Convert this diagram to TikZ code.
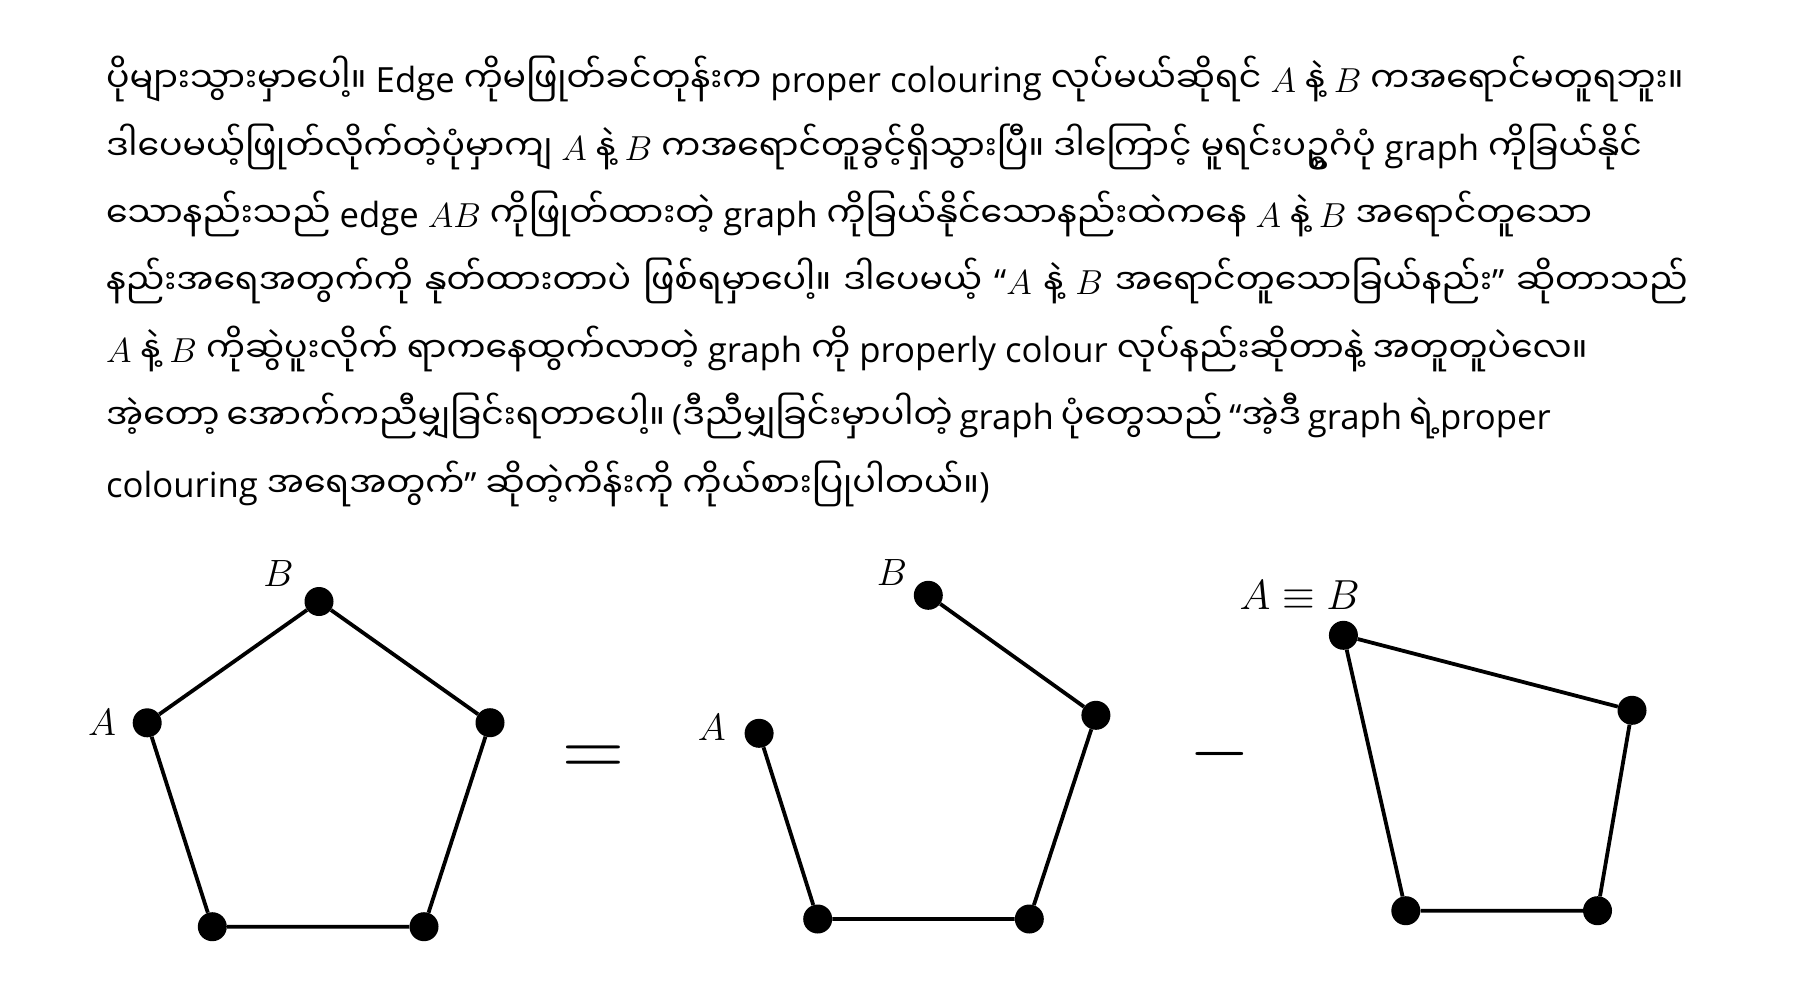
\RequirePackage{fix-cm}
\documentclass[tikz,border=0pt]{standalone}
\usepackage[no-math]{fontspec}
\setmainfont{Open Sans}
\newfontfamily\my[Script=Myanmar]{Noto Sans Myanmar UI}
\newcommand\LA[1]{{\rmfamily #1}}
\newcommand\wsp[1]{\spaceskip=\dimexpr\fontdimen2\font+#1\relax}
\tikzset{
  txt/.style={anchor=base west, inner sep=0pt, font=\my\fontsize{34.7}{40}\selectfont},
  dot/.style={circle, fill=black, inner sep=0pt, minimum size=29pt},
  edge/.style={line width=3.8pt},
  lab/.style={inner sep=0pt, font=\fontsize{38}{40}\selectfont},
  bigsym/.style={anchor=base, inner sep=0pt}
}
\begin{document}
\begin{tikzpicture}[x=1pt,y=-1pt]
\useasboundingbox (0,0) rectangle (1795,1007);
% text lines
\node[txt] (l1) at (106,92.7) {ပိုများသွားမှာပေါ့။ \LA{Edge} ကိုမဖြုတ်ခင်တုန်းက \LA{proper colouring} လုပ်မယ်ဆိုရင် $A$ နဲ့ $B$ ကအရောင်မတူရဘူး။};
\node[txt] (l2) at (106,160.1) {ဒါပေမယ့်ဖြုတ်လိုက်တဲ့ပုံမှာကျ $A$ နဲ့ $B$ ကအရောင်တူခွင့်ရှိသွားပြီ။ ဒါကြောင့် မူရင်းပဥ္စဂံပုံ \LA{graph} ကိုခြယ်နိုင်};
\node[txt] (l3) at (106,227.5) {သောနည်းသည် \LA{edge} $AB$ ကိုဖြုတ်ထားတဲ့ \LA{graph} ကိုခြယ်နိုင်သောနည်းထဲကနေ $A$ နဲ့ $B$ အရောင်တူသော};
\node[txt] (l4) at (106,294.9) {\wsp{2.9pt}နည်းအရေအတွက်ကို နုတ်ထားတာပဲ ဖြစ်ရမှာပေါ့။ ဒါပေမယ့် \LA{“}$A$ နဲ့ $B$ အရောင်တူသောခြယ်နည်း\LA{”} ဆိုတာသည်};
\node[txt] (l5) at (106,362.3) {$A$ နဲ့ $B$ ကိုဆွဲပူးလိုက် ရာကနေထွက်လာတဲ့ \LA{graph} ကို \LA{properly colour} လုပ်နည်းဆိုတာနဲ့ အတူတူပဲလေ။};
\node[txt] (l6) at (106,429.7) {\wsp{-2pt}အဲ့တော့ အောက်ကညီမျှခြင်းရတာပေါ့။ \LA{(}ဒီညီမျှခြင်းမှာပါတဲ့ \LA{graph} ပုံတွေသည် \LA{“}အဲ့ဒီ \LA{graph} ရဲ့\LA{proper}};
\node[txt] (l7) at (106,497.1) {\LA{colouring} အရေအတွက်\LA{”} ဆိုတဲ့ကိန်းကို ကိုယ်စားပြုပါတယ်။\LA{)}};
% graph 1
\node[dot] (a1) at (147.2,722.8) {};
\node[dot] (b1) at (319,601.5) {};
\node[dot] (r1) at (490,722.7) {};
\node[dot] (br1) at (424,926.7) {};
\node[dot] (bl1) at (212.3,926.7) {};
\node[lab] (la1) at (102,722.5) {$A$};
\node[lab] (lb1) at (278.5,573.7) {$B$};
\draw[edge] (a1) -- (b1) -- (r1) -- (br1) -- (bl1) -- (a1);
% equals
\node[bigsym, font=\fontsize{86}{90}\selectfont] (eq) at (593,776.5) {$=$};
% graph 2
\node[dot] (a2) at (759.1,733.3) {};
\node[dot] (b2) at (928.3,595.3) {};
\node[dot] (r2) at (1095.9,715.3) {};
\node[dot] (br2) at (1029.3,919) {};
\node[dot] (bl2) at (817.7,919) {};
\node[lab] (la2) at (711.7,728) {$A$};
\node[lab] (lb2) at (891.9,572.7) {$B$};
\draw[edge] (a2) -- (bl2) -- (br2) -- (r2) -- (b2);
% minus
\node[bigsym, font=\fontsize{78}{80}\selectfont] (mi) at (1220,773.5) {$-$};
% graph 3
\node[dot] (t3) at (1343.4,635.3) {};
\node[dot] (r3) at (1632,710.3) {};
\node[dot] (br3) at (1597.5,910.7) {};
\node[dot] (bl3) at (1405.8,910.7) {};
\node[lab, font=\fontsize{42}{44}\selectfont] (lab3) at (1299.7,594.7) {$A\equiv B$};
\draw[edge] (t3) -- (r3) -- (br3) -- (bl3) -- (t3);
\end{tikzpicture}
\end{document}
